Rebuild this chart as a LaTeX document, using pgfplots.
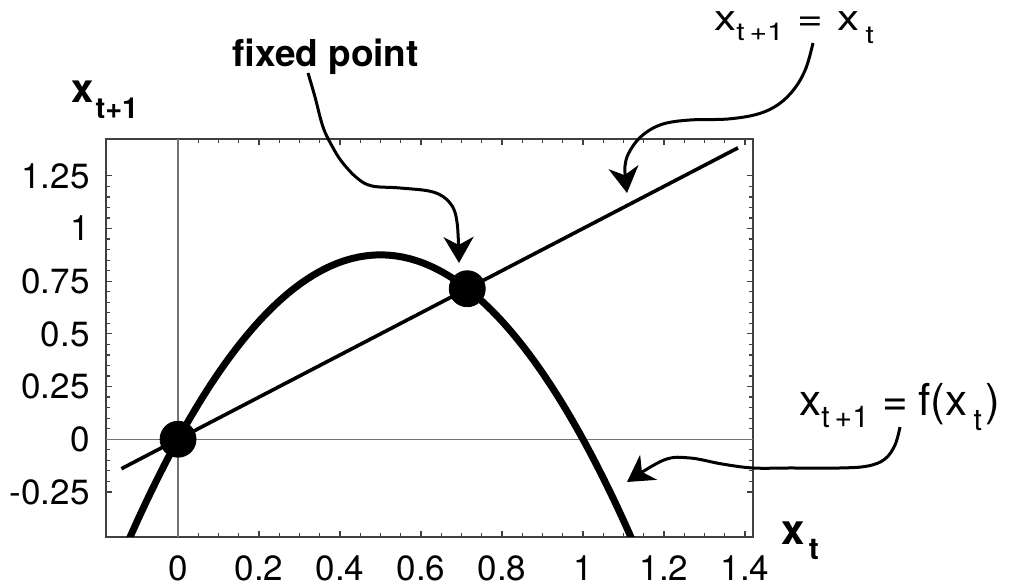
\documentclass[border=0pt]{standalone}
\usepackage{fontspec}
\setmainfont{TeX Gyre Heros}
\usepackage{pgfplots}
\pgfplotsset{compat=1.18}
\usetikzlibrary{arrows.meta}

% subscript set lower and smaller, as in the original typesetting
\newcommand{\lowsub}[3]{\raisebox{-#1}{\fontsize{#2}{#2}\selectfont #3}}

\begin{document}
\begin{tikzpicture}
\begin{axis}[
  at={(53pt,25pt)}, anchor=south west,
  scale only axis, width=323.5pt, height=199pt,
  xmin=-0.178, xmax=1.42, ymin=-0.464, ymax=1.425,
  axis line style={draw=black!75, line width=0.8pt},
  xtick={0,0.2,0.4,0.6,0.8,1,1.2,1.4},
  xticklabels={0,0.2,0.4,0.6,0.8,1,1.2,1.4},
  ytick={-0.25,0,0.25,0.5,0.75,1,1.25},
  yticklabels={-0.25,0,0.25,0.5,0.75,1,1.25},
  minor x tick num=3, minor y tick num=4,
  tick align=inside,
  major tick length=3.2pt, minor tick length=1.8pt,
  every tick/.style={black!75, line width=0.6pt},
  tick label style={font=\fontsize{17.5}{19}\selectfont, inner sep=0pt},
  yticklabel style={xshift=-8pt},
  xticklabel style={yshift=-9pt},
  /pgf/number format/assume math mode=true,
  clip=true,
]
% zero lines
\draw[black!55, line width=0.7pt] (axis cs:0,-0.464) -- (axis cs:0,1.425);
\draw[black!55, line width=0.7pt] (axis cs:-0.178,0) -- (axis cs:1.42,0);

% identity line x_{t+1} = x_t
\addplot[black, line width=1.8pt] coordinates {(-0.14,-0.14) (1.383,1.383)};

% logistic map f(x) = 3.5 x (1 - x)
\addplot[black, line width=3.5pt, smooth] coordinates {
(-0.125,-0.4921875) (-0.1,-0.385) (-0.075,-0.2821875) (-0.05,-0.18375)
(-0.025,-0.0896875) (0,0) (0.025,0.0853125) (0.05,0.16625) (0.075,0.2428125)
(0.1,0.315) (0.125,0.3828125) (0.15,0.44625) (0.175,0.5053125) (0.2,0.56)
(0.225,0.6103125) (0.25,0.65625) (0.275,0.6978125) (0.3,0.735)
(0.325,0.7678125) (0.35,0.79625) (0.375,0.8203125) (0.4,0.84)
(0.425,0.8553125) (0.45,0.86625) (0.475,0.8728125) (0.5,0.875)
(0.525,0.8728125) (0.55,0.86625) (0.575,0.8553125) (0.6,0.84)
(0.625,0.8203125) (0.65,0.79625) (0.675,0.7678125) (0.7,0.735)
(0.725,0.6978125) (0.75,0.65625) (0.775,0.6103125) (0.8,0.56)
(0.825,0.5053125) (0.85,0.44625) (0.875,0.3828125) (0.9,0.315)
(0.925,0.2428125) (0.95,0.16625) (0.975,0.0853125) (1,0)
(1.025,-0.0896875) (1.05,-0.18375) (1.075,-0.2821875) (1.1,-0.385)
(1.125,-0.4921875)};

% fixed points
\addplot[only marks, mark=*, mark size=9pt, black, clip mode=individual]
  coordinates {(0,0) (0.7142857,0.7142857)};
\end{axis}

% annotations, in pixel-like units measured from the top-left corner
\begin{scope}[shift={(0,293.5pt)}, x=0.5pt, y=-0.5pt]
  % axis labels
  \node[anchor=base west, inner sep=0pt, font=\bfseries\fontsize{20}{22}\selectfont]
    at (71,103) {x\lowsub{8pt}{14.5}{\hspace{1pt}t+1}};
  \node[anchor=base west, inner sep=0pt, font=\bfseries\fontsize{21}{22}\selectfont]
    at (781,545) {x\lowsub{7.5pt}{15}{\hspace{2pt}t}};

  % text labels
  \node[anchor=base west, inner sep=0pt, font=\bfseries\fontsize{18.5}{20}\selectfont]
    at (232,67) {fixed point};
  \node[anchor=base west, inner sep=0pt, font=\fontsize{22}{24}\selectfont]
    at (714,31) {\scalebox{1}[0.82]{x\lowsub{6pt}{15}{t\,+1}\hspace{7pt}=\hspace{7pt}x\lowsub{7.5pt}{15}{\hspace{3pt}t}}};
  \node[anchor=base west, inner sep=0pt, font=\fontsize{22}{24}\selectfont]
    at (799,416) {x\lowsub{6pt}{15}{t\,+1}\hspace{7pt}=\hspace{5pt}f(x\lowsub{7.5pt}{15}{\hspace{3pt}t}\hspace{2pt})};

  % curved arrows
  \tikzset{callout/.style={line width=1.5pt, -{Stealth[length=13pt, width=15pt, inset=4pt]}}}
  \draw[callout] plot[smooth, tension=0.6] coordinates {
    (308,73) (315,97) (323,127) (332,146) (342,162) (357,178) (372,186)
    (400,188) (433,192) (450,203) (457,222) (459,263)};
  \draw[callout] plot[smooth, tension=0.6] coordinates {
    (813,43) (806,68) (795,88) (779,104) (758,114) (728,119) (690,120)
    (663,124) (644,134) (631,149) (625,166) (627,193)};
  \draw[callout] plot[smooth, tension=0.6] coordinates {
    (900,427) (895,445) (885,459) (868,466) (840,468) (790,468) (753,468)
    (722,464) (690,458) (664,460) (627,482)};
\end{scope}

% page size
\pgfresetboundingbox
\path[use as bounding box] (0,0) rectangle (506pt,293.5pt);
\end{tikzpicture}
\end{document}
